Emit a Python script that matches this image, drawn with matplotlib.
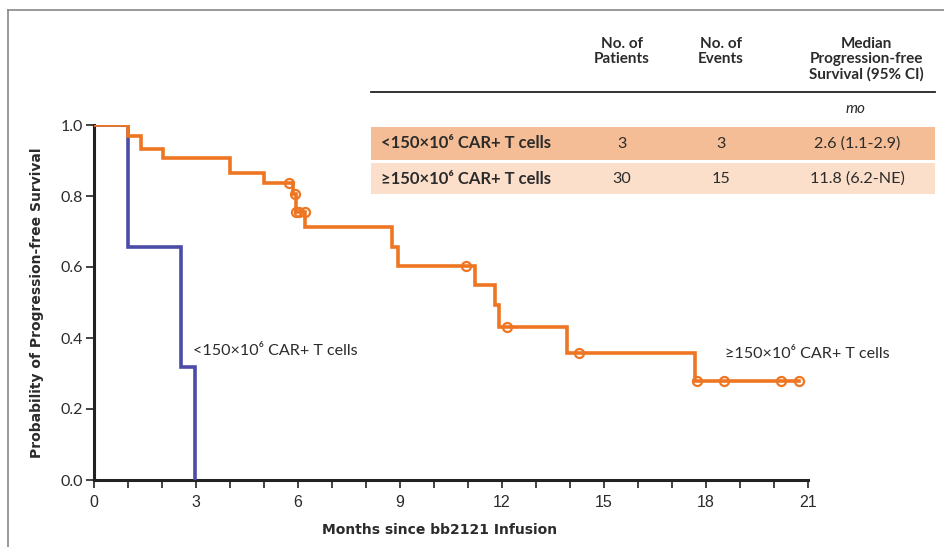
import matplotlib
matplotlib.use("Agg")
import matplotlib.pyplot as plt
from matplotlib.patches import Rectangle
from matplotlib.lines import Line2D

# ---------------- data ----------------
hi_times = [0, 1.0, 1.38, 2.02, 4.0, 5.0, 5.86, 5.93, 6.22, 8.76, 8.95, 11.2, 11.79, 11.92, 13.9, 17.68, 20.74]
hi_surv = [1.0, 0.969, 0.931, 0.906, 0.864, 0.8375, 0.805, 0.754, 0.712, 0.657, 0.603, 0.549, 0.493, 0.432, 0.357, 0.28, 0.28]
hi_cens_t = [5.75, 5.91, 5.93, 6.02, 6.2, 10.93, 12.14, 14.27, 17.74, 18.53, 20.2, 20.74]
hi_cens_s = [0.8375, 0.805, 0.754, 0.754, 0.754, 0.603, 0.432, 0.357, 0.28, 0.28, 0.28, 0.28]

lo_times = [0, 1.0, 2.55, 2.97]
lo_surv = [1.0, 0.655, 0.318, 0.0]

x_ticks = [0, 3, 6, 9, 12, 15, 18, 21]
y_ticks = [0.0, 0.2, 0.4, 0.6, 0.8, 1.0]

row_labels = ["<150×10⁶ CAR+ T cells", "≥150×10⁶ CAR+ T cells"]
n_patients = ["3", "30"]
n_events = ["3", "15"]
median_pfs = ["2.6 (1.1-2.9)", "11.8 (6.2-NE)"]
col_headers = ["No. of\nPatients", "No. of\nEvents", "Median\nProgression-free\nSurvival (95% CI)"]

ORANGE = "#EE7623"
BLUE = "#4C4CA8"
TXT = "#2b2b2b"

W, H = 945, 547
fig = plt.figure(figsize=(W / 100, H / 100), dpi=100)
fig.patch.set_facecolor("white")

def fx(px):
    return px / W

def fy(py):
    return 1 - py / H

# frame lines (top and left)
fig.add_artist(Line2D([fx(8), 1.0], [fy(10), fy(10)], color="#888888", lw=1.2))
fig.add_artist(Line2D([fx(8), fx(8)], [fy(10), 0.0], color="#888888", lw=1.2))

ax = fig.add_axes([fx(94), fy(480), fx(808) - fx(94), fy(125) - fy(480)])
ax.set_xlim(0, 21)
ax.set_ylim(0, 1)
ax.patch.set_alpha(0)

ax.step(lo_times, lo_surv, where="post", color=BLUE, lw=2.6, zorder=3, solid_joinstyle="miter")
ax.step(hi_times, hi_surv, where="post", color=ORANGE, lw=2.6, zorder=4, solid_joinstyle="miter")
ax.plot(hi_cens_t, hi_cens_s, linestyle="none", marker="o", ms=6.5, mfc="none",
        mec=ORANGE, mew=1.6, zorder=5)

for s in ["top", "right"]:
    ax.spines[s].set_visible(False)
for s in ["left", "bottom"]:
    ax.spines[s].set_linewidth(2.2)
    ax.spines[s].set_color("#222222")
    ax.spines[s].set_zorder(2)

ax.set_xticks(x_ticks)
ax.set_xticks(range(0, 22), minor=True)
ax.set_yticks(y_ticks)
ax.set_yticklabels([f"{v:.1f}" for v in y_ticks])
ax.tick_params(axis="both", which="major", length=6, width=1.2, color="#222222",
               labelsize=11.5, labelcolor=TXT)
ax.tick_params(axis="x", which="minor", length=6, width=1.2, color="#222222")
ax.tick_params(axis="x", pad=5)
ax.tick_params(axis="y", pad=2)
for lab in ax.get_yticklabels():
    lab.set_fontfamily("Lato")
for lab in ax.get_xticklabels():
    lab.set_fontfamily("Liberation Sans")

ax.set_xlabel("Months since bb2121 Infusion", fontsize=10, fontweight="bold", color=TXT,
              fontfamily="DejaVu Sans")
ax.xaxis.set_label_coords((440 - 94) / 714, -(523 - 480) / 355)
ax.set_ylabel("Probability of Progression-free Survival", fontsize=10, fontweight="bold",
              color=TXT, fontfamily="DejaVu Sans", labelpad=12)

# curve labels
ax.text(2.9, 0.362, "<150×10⁶ CAR+ T cells", fontsize=11.6, color=TXT, fontfamily="Lato",
        va="center", ha="left")
ax.text(18.55, 0.354, "≥150×10⁶ CAR+ T cells", fontsize=11.6, color=TXT, fontfamily="Lato",
        va="center", ha="left")

# ---------------- table ----------------
col_x = [622, 721, 866]
for x, h in zip(col_x, col_headers):
    fig.text(fx(x), fy(37), h, ha="center", va="top", fontsize=11, fontweight="bold",
             color=TXT, fontfamily="Lato", linespacing=1.1)
fig.add_artist(Line2D([fx(371), fx(935)], [fy(92), fy(92)], color="#222222", lw=1.3))
fig.text(fx(855), fy(109), "mo", ha="center", va="center", fontsize=11, style="italic",
         color=TXT, fontfamily="Lato")

row_colors = ["#F4BD95", "#FBDFCB"]
row_tops = [127, 163]
row_h = [33, 31]
for i in range(2):
    fig.add_artist(Rectangle((fx(371), fy(row_tops[i] + row_h[i])), fx(935) - fx(371),
                             row_h[i] / H, facecolor=row_colors[i], edgecolor="none",
                             transform=fig.transFigure, zorder=0))
    yc = fy(row_tops[i] + row_h[i] / 2)
    fig.text(fx(381), yc, row_labels[i], ha="left", va="center", fontsize=12,
             fontweight="bold", color=TXT, fontfamily="Lato")
    fig.text(fx(col_x[0]), yc, n_patients[i], ha="center", va="center", fontsize=11.6,
             color=TXT, fontfamily="Lato")
    fig.text(fx(col_x[1]), yc, n_events[i], ha="center", va="center", fontsize=11.6,
             color=TXT, fontfamily="Lato")
    fig.text(fx(857), yc, median_pfs[i], ha="center", va="center", fontsize=11.6,
             color=TXT, fontfamily="Lato")

fig.savefig("out.png", dpi=100)
